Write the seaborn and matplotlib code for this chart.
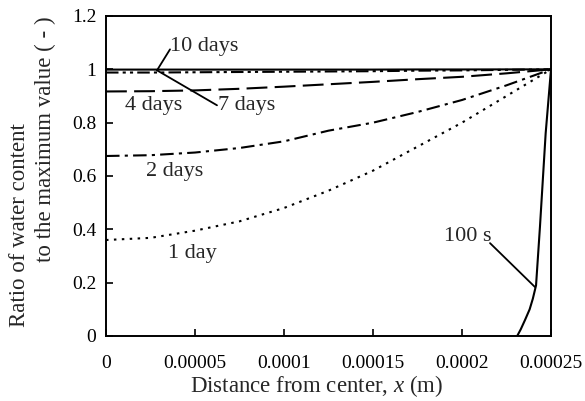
import matplotlib
matplotlib.use("Agg")
import matplotlib.pyplot as plt
import seaborn as sns
import pandas as pd
import numpy as np

# ---- data ----
x_days = [0, 2.5e-5, 5e-5, 7.5e-5, 1e-4, 1.25e-4, 1.5e-4, 1.75e-4, 2e-4, 2.25e-4, 2.5e-4]
day1 = [0.36, 0.368, 0.395, 0.43, 0.48, 0.545, 0.62, 0.71, 0.80, 0.90, 1.0]
day2 = [0.675, 0.678, 0.688, 0.705, 0.73, 0.77, 0.80, 0.84, 0.885, 0.94, 1.0]
day4 = [0.917, 0.918, 0.921, 0.927, 0.935, 0.944, 0.953, 0.963, 0.972, 0.985, 1.0]
day7 = [0.988, 0.988, 0.989, 0.99, 0.991, 0.992, 0.993, 0.995, 0.996, 0.998, 1.0]
day10 = [0.999, 0.999, 0.999, 0.999, 0.999, 0.999, 0.999, 0.9995, 0.9995, 0.9998, 1.0]
x_100s = [0.000231, 0.000233, 0.0002354, 0.000238, 0.0002398, 0.0002416, 0.0002438, 0.000247, 0.00025]
s100 = [0.0, 0.025, 0.06, 0.10, 0.14, 0.19, 0.41, 0.76, 1.0]

x_ticks = [0, 0.00005, 0.0001, 0.00015, 0.0002, 0.00025]
x_ticklabels = ["0", "0.00005", "0.0001", "0.00015", "0.0002", "0.00025"]
y_ticks = [0, 0.2, 0.4, 0.6, 0.8, 1.0, 1.2]
y_ticklabels = ["0", "0.2", "0.4", "0.6", "0.8", "1", "1.2"]
y_label_lines = ["Ratio of water content", "to the maximum value ( - )"]

sns.set_style("ticks")
plt.rcParams['font.family'] = ['Liberation Serif', 'DejaVu Serif']
plt.rcParams['mathtext.fontset'] = 'custom'
plt.rcParams['mathtext.it'] = 'Liberation Serif:italic'
plt.rcParams['mathtext.rm'] = 'Liberation Serif'

W, H = 585, 401
fig = plt.figure(figsize=(5.85, 4.01), dpi=100)
ax = fig.add_axes([106 / W, 1 - 336 / H, 445 / W, 320 / H])

series = [
    ("1 day", x_days, day1, (0, (1.2, 2.6))),
    ("2 days", x_days, day2, (0, (6.5, 2.5, 1.5, 2.5))),
    ("4 days", x_days, day4, (0, (10, 3.5))),
    ("7 days", x_days, day7, (0, (6, 2, 1.5, 2, 1.5, 2))),
    ("10 days", x_days, day10, "-"),
    ("100 s", x_100s, s100, "-"),
]
for name, xs, ys, ls in series:
    df = pd.DataFrame({"x": xs, "y": ys})
    sns.lineplot(data=df, x="x", y="y", ax=ax, color="black", lw=1.5,
                 linestyle=ls, estimator=None, sort=False)

ax.set_xlim(0, 0.00025)
ax.set_ylim(0, 1.2)
ax.set_xticks(x_ticks)
ax.set_xticklabels(x_ticklabels)
ax.set_yticks(y_ticks)
ax.set_yticklabels(y_ticklabels)
ax.tick_params(direction="in", length=5, width=1.2, labelsize=14, colors="black")
ax.tick_params(axis="x", pad=14)
ax.tick_params(axis="y", pad=7)
for sp in ax.spines.values():
    sp.set_linewidth(1.4)
    sp.set_color("black")

ax.set_xlabel("Distance from center, $x$ (m)", fontsize=16.5)
ax.xaxis.set_label_coords((317 - 106) / 445, -(386 - 336) / 320)
ax.xaxis.label.set_va("center")
ax.set_ylabel("")

fig.text(20 / W, 1 - 225 / H, y_label_lines[0], rotation=90, fontsize=16.5,
         ha="center", va="center")
fig.text(45 / W, 1 - 139 / H, y_label_lines[1], rotation=90, fontsize=16.5,
         ha="center", va="center")

fs = 16
def dat(px, py):
    return ((px - 106) / 445 * 0.00025, (336 - py) / 267)

ax.text(*dat(204, 46), "10 days", fontsize=fs, ha="center", va="center")
ax.plot(*zip(dat(170, 49), dat(157, 70)), color="black", lw=1.3)
ax.text(*dat(247, 105), "7 days", fontsize=fs, ha="center", va="center")
ax.plot(*zip(dat(157, 70), dat(217, 105)), color="black", lw=1.3)
ax.text(*dat(154, 105), "4 days", fontsize=fs, ha="center", va="center")
ax.text(*dat(175, 171), "2 days", fontsize=fs, ha="center", va="center")
ax.text(*dat(192, 253), "1 day", fontsize=fs, ha="center", va="center")
ax.text(*dat(468, 236), "100 s", fontsize=fs, ha="center", va="center")
ax.plot(*zip(dat(490, 243), dat(535, 287)), color="black", lw=1.3)

fig.savefig("out.png", dpi=100)
